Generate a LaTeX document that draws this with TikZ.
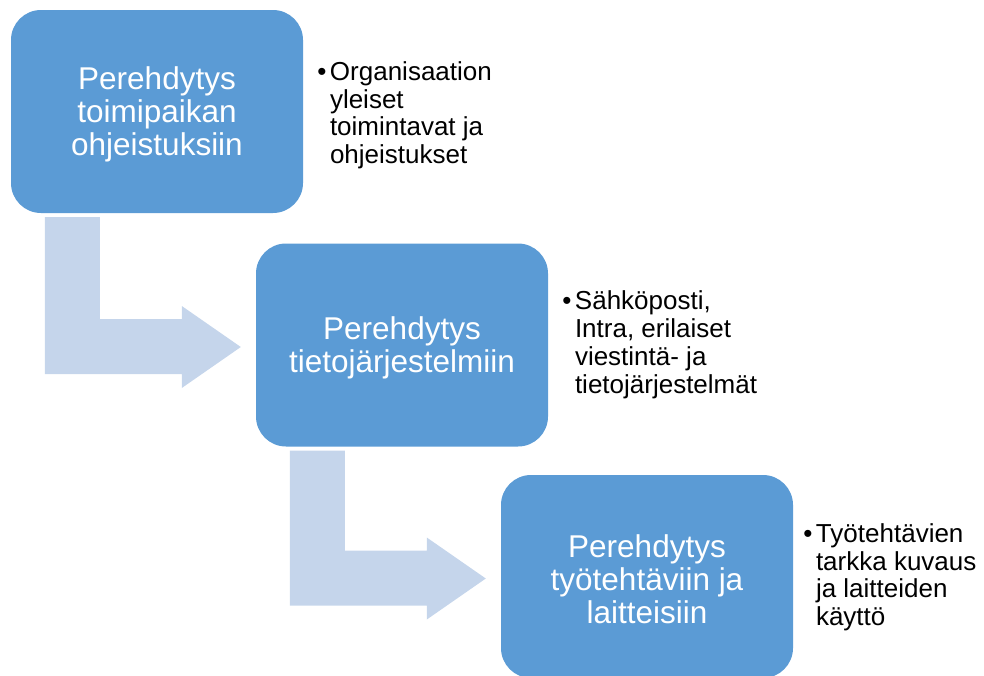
\documentclass[tikz,border=0pt]{standalone}
\usepackage{fontspec}
\setmainfont{Liberation Sans}
\usetikzlibrary{calc}
\definecolor{boxblue}{RGB}{91,155,213}
\definecolor{arrowblue}{RGB}{197,213,235}
\newcommand{\bentarr}[2]{%
  \coordinate (#1top) at ($(#1.south west)+(34,4)$);
  \coordinate (#2tip) at ($(#2.west)+(-15,2)$);
  \fill[arrowshape] let \p1=(#1top), \p2=(#2tip) in
    (\x1,\y1) -- (\x1+55pt,\y1) -- (\x1+55pt,\y2+28pt) -- (\x2-59pt,\y2+28pt)
    -- (\x2-59pt,\y2+41pt) -- (\x2,\y2) -- (\x2-59pt,\y2-41pt)
    -- (\x2-59pt,\y2-27pt) -- (\x1,\y2-27pt) -- cycle;
}
\begin{document}
\begin{tikzpicture}[x=1pt,y=-1pt,
  stepbox/.style={draw=none, fill=boxblue, rounded corners=30pt,
    minimum width=292pt, minimum height=203pt, inner sep=0pt},
  steptext/.style={inner sep=0pt, text=white, align=center,
    font=\fontsize{31.5}{33}\selectfont},
  arrowshape/.style={fill=arrowblue, draw=none},
  desc/.style={anchor=west, inner sep=0pt, text=black,
    font=\fontsize{26}{27.8}\selectfont}]
\useasboundingbox (0,0) rectangle (984,675);
\node[stepbox] (b1) at (157,111.5) {};
\node[stepbox] (b2) at (402,345) {};
\node[stepbox] (b3) at (647,576.5) {};
\node[steptext] (b1t) at ($(b1.center)+(0,3)$) {Perehdytys\\toimipaikan\\ohjeistuksiin};
\node[steptext] (b2t) at ($(b2.center)+(0,3)$) {Perehdytys\\tietojärjestelmiin};
\node[steptext] (b3t) at ($(b3.center)+(0,3)$) {Perehdytys\\työtehtäviin ja\\laitteisiin};
\bentarr{b1}{b2}
\bentarr{b2}{b3}
\node[desc] (d1) at ($(b1.east)+(14,5)$) {\begin{tabular}{@{}l@{\hspace{3.5pt}}l@{}}•&Organisaation\\&yleiset\\&toimintavat ja\\&ohjeistukset\end{tabular}};
\node[desc] (d2) at ($(b2.east)+(14,1)$) {\begin{tabular}{@{}l@{\hspace{3.5pt}}l@{}}•&Sähköposti,\\&Intra, erilaiset\\&viestintä- ja\\&tietojärjestelmät\end{tabular}};
\node[desc] (d3) at ($(b3.east)+(10,2)$) {\begin{tabular}{@{}l@{\hspace{3.5pt}}l@{}}•&Työtehtävien\\&tarkka kuvaus\\&ja laitteiden\\&käyttö\end{tabular}};
\end{tikzpicture}
\end{document}
